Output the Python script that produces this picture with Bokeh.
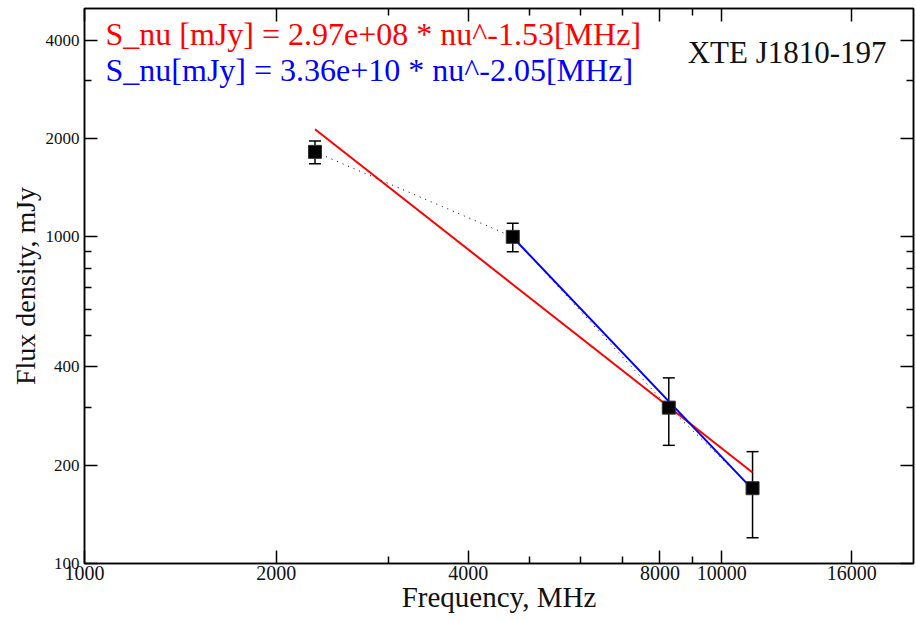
from bokeh.plotting import figure
from bokeh.models import (FixedTicker, LogAxis, Whisker, TeeHead,
                          ColumnDataSource, Label)
from bokeh.embed import file_html
from bokeh.resources import INLINE

# Measured spectrum of XTE J1810-197
freq_mhz = [2300, 4700, 8260, 11180]
flux_mjy = [1820, 1000, 300, 170]
flux_err = [145, 100, 70, 50]

# Power-law fits S = A * nu^alpha and the frequency span each covers
red_amp, red_index = 2.97e8, -1.53
red_span = [freq_mhz[0], freq_mhz[-1]]
blue_amp, blue_index = 3.36e10, -2.05
blue_span = [freq_mhz[1], freq_mhz[-1]]

# Axis ticks
x_major = [1000, 2000, 4000, 8000, 10000, 16000]
x_minor = [3000, 5000, 6000, 7000, 9000]
x_labels = ["1000", "2000", "4000", "8000", "10000", "16000"]
y_major = [100, 200, 400, 1000, 2000, 4000]
y_minor = [300, 500, 600, 700, 800, 900, 3000]
y_labels = ["100", "200", "400", "1000", "2000", "4000"]

red_text = "S_nu [mJy] = 2.97e+08 * nu^-1.53[MHz]"
blue_text = "S_nu[mJy] = 3.36e+10 * nu^-2.05[MHz]"
source_name = "XTE J1810-197"

FONT = "Liberation Serif"

p = figure(width=916, height=620, x_axis_type="log", y_axis_type="log",
           x_range=(1000, 20000), y_range=(100, 5000),
           output_backend="svg", toolbar_location=None,
           min_border_left=84, min_border_right=3,
           min_border_top=8, min_border_bottom=57)
p.grid.visible = False
p.outline_line_color = "black"
p.outline_line_width = 1.5


def style_axis(ax):
    ax.major_tick_in = 13
    ax.major_tick_out = 0
    ax.minor_tick_in = 7
    ax.minor_tick_out = 0
    ax.axis_line_color = "black"
    ax.axis_line_width = 1.5
    ax.major_tick_line_color = "black"
    ax.major_tick_line_width = 1.5
    ax.minor_tick_line_color = "black"
    ax.minor_tick_line_width = 1.5
    ax.major_label_text_font = FONT
    ax.major_label_text_color = "#111111"
    ax.axis_label_text_font = FONT
    ax.axis_label_text_font_style = "normal"
    ax.axis_label_text_color = "#111111"


xa = p.xaxis[0]
xa.ticker = FixedTicker(ticks=x_major, minor_ticks=x_minor)
xa.major_label_overrides = dict(zip(x_major, x_labels))
style_axis(xa)
xa.major_label_text_font_size = "20px"
xa.major_label_standoff = 2
xa.axis_label = "Frequency, MHz"
xa.axis_label_text_font_size = "29px"
xa.axis_label_standoff = -2

ya = p.yaxis[0]
ya.ticker = FixedTicker(ticks=y_major, minor_ticks=y_minor)
ya.major_label_overrides = dict(zip(y_major, y_labels))
style_axis(ya)
ya.major_label_text_font_size = "17px"
ya.major_label_standoff = 5
ya.axis_label = "Flux density, mJy"
ya.axis_label_text_font_size = "28px"
ya.axis_label_standoff = 2

# Mirrored tick marks on the top and right edges, without labels
top = LogAxis(ticker=FixedTicker(ticks=x_major, minor_ticks=x_minor))
top.major_label_overrides = {t: "" for t in x_major}
right = LogAxis(ticker=FixedTicker(ticks=y_major, minor_ticks=y_minor))
right.major_label_overrides = {t: "" for t in y_major}
for ax in (top, right):
    style_axis(ax)
    ax.major_label_standoff = 0
p.add_layout(top, "above")
p.add_layout(right, "right")

src = ColumnDataSource(dict(
    x=freq_mhz, y=flux_mjy,
    upper=[f + e for f, e in zip(flux_mjy, flux_err)],
    lower=[f - e for f, e in zip(flux_mjy, flux_err)],
))

# Dotted line joining the measurements
p.line("x", "y", source=src, line_color="black", line_width=1,
       line_dash="1 5")


def power_law(amp, index, span):
    return [amp * nu ** index for nu in span]


p.line(red_span, power_law(red_amp, red_index, red_span),
       line_color="#ff0000", line_width=2)
p.line(blue_span, power_law(blue_amp, blue_index, blue_span),
       line_color="#0000ff", line_width=2)

p.add_layout(Whisker(source=src, base="x", upper="upper", lower="lower",
                     line_color="black", line_width=1.5,
                     upper_head=TeeHead(size=12, line_color="black",
                                        line_width=1.5),
                     lower_head=TeeHead(size=12, line_color="black",
                                        line_width=1.5)))

p.scatter("x", "y", source=src, marker="square", size=13,
          fill_color="black", line_color="#333333", line_width=1)

# Fit equations and source name
p.add_layout(Label(x=1079, y=3681, text=red_text, text_font=FONT,
                   text_font_size="32px", text_color="#ff0000"))
p.add_layout(Label(x=1079, y=2863, text=blue_text, text_font=FONT,
                   text_font_size="32px", text_color="#0000ff"))
p.add_layout(Label(x=8845, y=3241, text=source_name, text_font=FONT,
                   text_font_size="31px", text_color="#111111"))

open("out.html", "w").write(file_html(p, INLINE))
